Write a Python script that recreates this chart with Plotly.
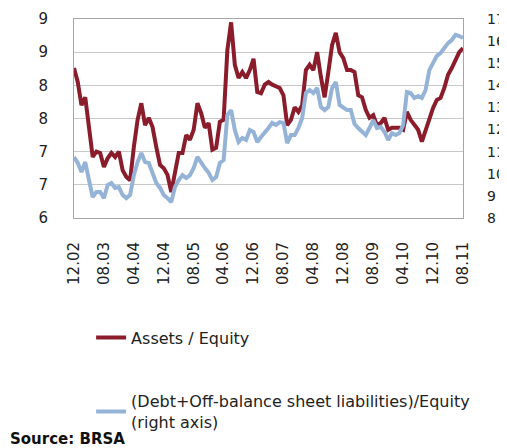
import plotly.graph_objects as go
import pandas as pd

# monthly, Dec 2002 - Aug 2011
months = pd.date_range("2002-12-01", periods=105, freq="MS").strftime("%m.%y").tolist()

assets_equity = [
    8.26, 8.05, 7.70, 7.82, 7.37, 6.92, 7.00, 6.98, 6.77, 6.90,
    6.98, 6.92, 7.00, 6.72, 6.62, 6.57, 7.07, 7.48, 7.73, 7.40,
    7.51, 7.37, 7.07, 6.80, 6.75, 6.65, 6.39, 6.72, 6.98, 6.98,
    7.25, 7.18, 7.33, 7.73, 7.58, 7.36, 7.43, 7.03, 7.06, 7.45,
    7.48, 8.53, 8.95, 8.31, 8.11, 8.20, 8.11, 8.23, 8.40, 7.90,
    7.88, 8.01, 8.05, 8.01, 7.99, 7.96, 7.85, 7.40, 7.48, 7.67,
    7.60, 7.70, 8.23, 8.31, 8.23, 8.50, 8.13, 7.82, 8.20, 8.61,
    8.79, 8.50, 8.41, 8.23, 8.23, 8.20, 7.85, 7.82, 7.63, 7.51,
    7.55, 7.40, 7.43, 7.51, 7.33, 7.36, 7.36, 7.36, 7.33, 7.60,
    7.48, 7.40, 7.33, 7.15, 7.33, 7.51, 7.66, 7.78, 7.81, 7.96,
    8.16, 8.26, 8.38, 8.50, 8.56,
]

debt_offbalance_equity = [
    10.76, 10.49, 10.08, 10.53, 9.72, 8.95, 9.18, 9.18, 8.90, 9.49,
    9.58, 9.36, 9.40, 9.04, 8.90, 9.04, 9.94, 10.53, 10.94, 10.53,
    10.49, 10.08, 9.58, 9.36, 9.04, 8.90, 8.72, 9.40, 9.72, 9.94,
    9.81, 9.94, 10.26, 10.76, 10.49, 10.26, 10.04, 9.72, 9.85, 10.49,
    10.62, 12.66, 12.88, 11.98, 11.44, 11.62, 11.53, 11.98, 11.89, 11.44,
    11.66, 11.84, 12.07, 12.30, 12.21, 12.34, 12.30, 11.39, 11.75, 11.75,
    12.07, 12.52, 13.65, 13.79, 13.65, 13.88, 13.02, 12.88, 13.02, 13.88,
    14.15, 13.11, 12.98, 12.88, 12.88, 12.25, 12.07, 11.89, 11.75, 12.07,
    12.43, 12.07, 12.12, 11.89, 11.53, 11.84, 11.75, 11.84, 12.21, 13.70,
    13.65, 13.43, 13.52, 13.43, 13.79, 14.69, 15.06, 15.33, 15.46, 15.69,
    15.91, 16.05, 16.28, 16.23, 16.14,
]

font = "DejaVu Sans"

fig = go.Figure()
fig.add_trace(go.Scatter(
    x=months, y=assets_equity, name="Assets / Equity",
    mode="lines", line=dict(color="#8B1C2C", width=4),
    legendgroup="a",
))
fig.add_trace(go.Scatter(
    x=months, y=debt_offbalance_equity,
    name="(Debt+Off-balance sheet liabilities)/Equity<br>(right axis)",
    mode="lines", line=dict(color="#95B3D7", width=4),
    yaxis="y2", legendgroup="b",
))

# page body has an 8px margin, so the figure is a bit smaller than the window
fig.update_layout(
    width=499, height=440,
    margin=dict(l=66, r=44, t=11, b=230, autoexpand=False),
    plot_bgcolor="white", paper_bgcolor="white",
    font=dict(family=font, size=15, color="#222222"),
    showlegend=True,
    legend=dict(
        x=0.044, y=-0.515, xanchor="left", yanchor="top",
        font=dict(size=16, color="#222222"),
        tracegroupgap=40, bgcolor="rgba(0,0,0,0)",
    ),
    xaxis=dict(
        type="category", range=[0, len(months) - 1],
        tickmode="array", tickvals=months[::8], ticktext=months[::8],
        tickangle=-90, showgrid=False, ticks="",
        showline=True, linecolor="#a6a6a6", linewidth=1, mirror=True,
        ticklabelstandoff=17, tickfont=dict(size=15),
    ),
    yaxis=dict(
        range=[6, 9], dtick=0.5, tickformat=".0f",
        showgrid=True, gridcolor="#c8c8c8", gridwidth=1,
        zeroline=False, ticks="",
        showline=True, linecolor="#a6a6a6", linewidth=1, mirror=True,
        ticklabelstandoff=22, tickfont=dict(size=15),
    ),
    yaxis2=dict(
        range=[8, 17], dtick=1, overlaying="y", side="right",
        showgrid=False, zeroline=False, ticks="", showline=False,
        ticklabelstandoff=23, tickfont=dict(size=14),
    ),
    annotations=[dict(
        text="<b>Source: BRSA</b>", xref="paper", yref="paper",
        x=-0.17, y=-1.11, xanchor="left", yanchor="middle",
        showarrow=False, font=dict(size=15, color="#111111"),
    )],
)

fig.write_html("out.html")
